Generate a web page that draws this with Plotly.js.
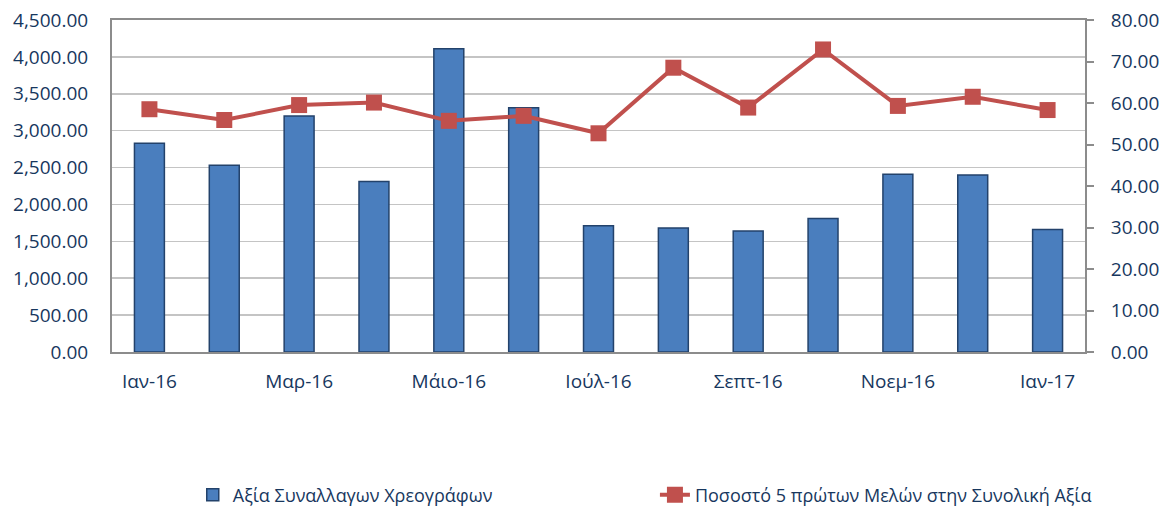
<!DOCTYPE html>
<html>
<head>
<meta charset="utf-8">
<script src="https://cdn.plot.ly/plotly-3.0.1.min.js"></script>
<style>html,body{margin:0;padding:0;background:#fff;}#chart{width:1168px;height:514px;}</style>
</head>
<body>
<div id="chart"></div>
<script>
var months = ["Ιαν-16","Φεβ-16","Μαρ-16","Απρ-16","Μάιο-16","Ιούν-16","Ιούλ-16","Αύγ-16","Σεπτ-16","Οκτ-16","Νοεμ-16","Δεκ-16","Ιαν-17"];
var tradeValue = [2830, 2530, 3200, 2310, 4110, 3310, 1710, 1680, 1640, 1810, 2410, 2400, 1660];
var top5Share = [58.5, 55.9, 59.5, 60.1, 55.7, 56.9, 52.7, 68.5, 58.9, 72.9, 59.3, 61.5, 58.3];
var leftTicks = [0,500,1000,1500,2000,2500,3000,3500,4000,4500];
var rightTicks = [0,10,20,30,40,50,60,70,80];
var shownMonths = months.filter(function(m,i){return i%2===0;});

var navy = "#17375E";
var fontFam = "'Open Sans', 'Noto Sans', sans-serif";

var traces = [
  {
    type: "bar", name: "Αξία Συναλλαγων Χρεογράφων",
    x: months, y: tradeValue, yaxis: "y",
    width: 0.4,
    marker: {color: "#4a7ebe", line: {color: "#23426b", width: 1.5}},
    legend: "legend"
  },
  {
    type: "scatter", mode: "lines+markers", name: "Ποσοστό 5 πρώτων Μελών στην Συνολική Αξία",
    x: months, y: top5Share, yaxis: "y2",
    line: {color: "#C0504D", width: 4},
    marker: {symbol: "square", size: 16, color: "#C0504D"},
    legend: "legend2"
  }
];

var legendFont = {size: 18, color: navy, family: fontFam};

var layout = {
  width: 1168, height: 514,
  margin: {l: 112, r: 83, t: 20, b: 162},
  paper_bgcolor: "#fff", plot_bgcolor: "#fff",
  font: {family: fontFam, color: navy, size: 19},
  showlegend: true,
  xaxis: {
    type: "category",
    range: [-0.5, months.length - 0.5], autorange: false,
    tickmode: "array", tickvals: shownMonths, ticktext: shownMonths,
    showgrid: false, showline: true, linecolor: "#8c8c8c", linewidth: 2,
    ticks: "", ticklabelstandoff: 11, tickfont: {size: 19, color: navy},
    mirror: true, fixedrange: true, automargin: false
  },
  yaxis: {
    range: [0, 4500], tickvals: leftTicks,
    tickformat: ",.2f",
    showgrid: true, gridcolor: "#c4c4c4", gridwidth: 1.5,
    showline: true, linecolor: "#8c8c8c", linewidth: 2,
    ticks: "", zeroline: false, ticklabelstandoff: 18, automargin: false,
    tickfont: {size: 19, color: navy}
  },
  yaxis2: {
    range: [0, 80], tickvals: rightTicks,
    tickformat: ".2f",
    overlaying: "y", side: "right",
    showgrid: false, showline: true, linecolor: "#8c8c8c", linewidth: 2,
    ticks: "outside", ticklen: 7, tickcolor: "#8c8c8c", tickwidth: 2,
    zeroline: false, ticklabelstandoff: 13, automargin: false,
    tickfont: {size: 19, color: navy}
  },
  legend: {
    orientation: "h",
    x: 0.083, xanchor: "left",
    yref: "container", y: 0.037, yanchor: "middle",
    font: legendFont
  },
  legend2: {
    orientation: "h",
    x: 0.558, xanchor: "left",
    yref: "container", y: 0.037, yanchor: "middle",
    font: legendFont
  }
};

Plotly.newPlot("chart", traces, layout, {displayModeBar: false, staticPlot: true});
</script>
</body>
</html>
